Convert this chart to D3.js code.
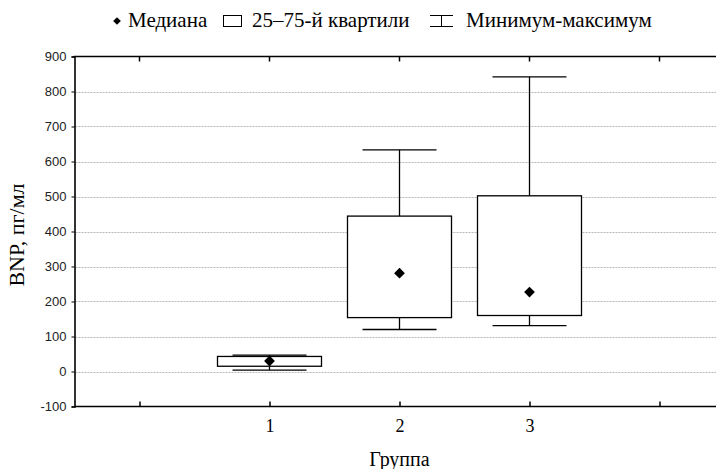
<!DOCTYPE html>
<html>
<head>
<meta charset="utf-8">
<script src="https://cdn.jsdelivr.net/npm/d3@7"></script>
<style>
  body { margin: 0; background: #fff; }
  svg { display: block; }
  .serif { font-family: "Liberation Serif", "Times New Roman", serif; fill: #000; }
  .sans { font-family: "Liberation Sans", Arial, sans-serif; fill: #000; }
</style>
</head>
<body>
<svg id="chart" width="716" height="469"></svg>
<script>
// values
var groups = [1, 2, 3]
var minimum = [4, 120, 131]
var q25 = [15, 154, 160]
var median = [30, 281, 227]
var q75 = [43, 444, 502]
var maximum = [47, 633, 842]
var yTicks = [-100, 0, 100, 200, 300, 400, 500, 600, 700, 800, 900]
var legendLabels = ["Медиана", "25–75-й квартили", "Минимум-максимум"]

var svg = d3.select("#chart")
var margin = { left: 74.5, right: 0, top: 56.5, bottom: 62.5 }
var width = 716, height = 469

var x = d3.scaleLinear().domain([-0.5, 4.5]).range([margin.left, margin.left + 650])
var y = d3.scaleLinear().domain([-100, 900]).range([height - margin.bottom, margin.top])

// grid lines
svg.append("g")
  .selectAll("line")
  .data(yTicks.filter(d => d > -100 && d < 900))
  .enter().append("line")
  .attr("x1", margin.left + 1).attr("x2", width)
  .attr("y1", d => Math.round(y(d)) + 0.5).attr("y2", d => Math.round(y(d)) + 0.5)
  .attr("stroke", "#b8b8b8")
  .attr("stroke-dasharray", "2,1")

// y axis
var yAxis = svg.append("g")
  .attr("transform", "translate(" + margin.left + ",0)")
  .call(d3.axisLeft(y).tickValues(yTicks).tickSize(3).tickPadding(5).tickFormat(d => String(d)))
yAxis.select(".domain").attr("stroke-width", 1.6)
yAxis.selectAll("text").attr("class", "sans").style("font-size", "13px").style("fill", "#222")

// bottom axis
var xAxis = svg.append("g")
  .attr("transform", "translate(0," + y(-100) + ")")
  .call(d3.axisBottom(x).tickValues([0, 1, 2, 3, 4]).tickSize(0).tickPadding(13)
    .tickFormat(d => groups.includes(d) ? d : ""))
xAxis.select(".domain").attr("d", "M" + margin.left + ",0H" + width).attr("stroke-width", 1.6)
xAxis.selectAll("text").attr("class", "serif").style("font-size", "18px")
xAxis.selectAll(".tick").append("line").attr("y1", 0).attr("y2", -5).attr("stroke", "#000").attr("stroke-width", 1.5)

// top border with ticks
var topBorder = svg.append("g")
topBorder.append("line")
  .attr("x1", margin.left - 0.8).attr("x2", width)
  .attr("y1", y(900)).attr("y2", y(900))
  .attr("stroke", "#000").attr("stroke-width", 1.6)
topBorder.selectAll(".t")
  .data([0, 1, 2, 3, 4])
  .enter().append("line")
  .attr("x1", d => x(d)).attr("x2", d => x(d))
  .attr("y1", y(900)).attr("y2", y(900) + 5)
  .attr("stroke", "#000").attr("stroke-width", 1.5)

// boxes
var boxW = 104, capW = 74
var boxes = svg.append("g")
groups.forEach(function (g, i) {
  var cx = x(g)
  boxes.append("line")
    .attr("x1", cx).attr("x2", cx)
    .attr("y1", y(maximum[i])).attr("y2", y(minimum[i]))
    .attr("stroke", "#000").attr("stroke-width", 1.3)
  ;[minimum[i], maximum[i]].forEach(function (v) {
    boxes.append("line")
      .attr("x1", cx - capW / 2).attr("x2", cx + capW / 2)
      .attr("y1", y(v)).attr("y2", y(v))
      .attr("stroke", "#000").attr("stroke-width", 1.3)
  })
  boxes.append("rect")
    .attr("x", cx - boxW / 2).attr("width", boxW)
    .attr("y", y(q75[i])).attr("height", y(q25[i]) - y(q75[i]))
    .attr("fill", "#fff").attr("stroke", "#000").attr("stroke-width", 1.3)
  // median as a square turned 45°
  boxes.append("path")
    .attr("d", d3.symbol(d3.symbolSquare, 58)())
    .attr("transform", "translate(" + cx + "," + y(median[i]) + ") rotate(45)")
    .attr("fill", "#000")
})

// axis titles
svg.append("text")
  .attr("class", "serif")
  .attr("x", x(2)).attr("y", 466)
  .attr("text-anchor", "middle")
  .style("font-size", "20px")
  .text("Группа")
svg.append("text")
  .attr("class", "serif")
  .attr("transform", "translate(24," + y(390) + ") rotate(-90)")
  .attr("text-anchor", "middle")
  .style("font-size", "22px")
  .text("BNP, пг/мл")

// legend
var legend = svg.append("g").attr("transform", "translate(0,27)")
legend.append("path")
  .attr("d", d3.symbol(d3.symbolSquare, 30)())
  .attr("transform", "translate(117,-6) rotate(45)")
legend.append("text").attr("class", "serif").attr("x", 128).style("font-size", "21px").text(legendLabels[0])
legend.append("rect").attr("x", 223.5).attr("y", -11.5).attr("width", 18).attr("height", 11)
  .attr("fill", "none").attr("stroke", "#000").attr("stroke-width", 1)
legend.append("text").attr("class", "serif").attr("x", 252).style("font-size", "21px").text(legendLabels[1])
var wh = legend.append("g").attr("stroke", "#000").attr("stroke-width", 1)
wh.append("line").attr("x1", 430).attr("x2", 453).attr("y1", -11.5).attr("y2", -11.5)
wh.append("line").attr("x1", 430).attr("x2", 453).attr("y1", -0.5).attr("y2", -0.5)
wh.append("line").attr("x1", 441.5).attr("x2", 441.5).attr("y1", -11.5).attr("y2", -0.5)
legend.append("text").attr("class", "serif").attr("x", 466).style("font-size", "21px").text(legendLabels[2])
</script>
</body>
</html>
